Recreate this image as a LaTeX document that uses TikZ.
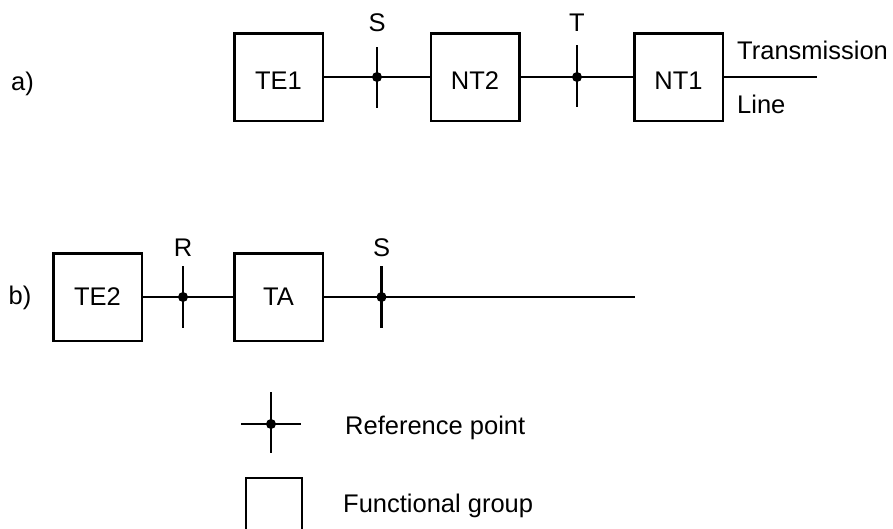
\documentclass[tikz,border=0pt]{standalone}
\usepackage{fontspec}
\setmainfont{Liberation Sans}
\begin{document}
\begin{tikzpicture}[x=1pt,y=-1pt,
  every node/.style={font=\fontsize{25.5}{30}\selectfont},
  fgbox/.style={draw,line width=2.5pt,minimum width=88.5pt,minimum height=87.5pt,inner sep=0pt},
  fgboxa/.style={fgbox,text height=24pt},
  wire/.style={line width=2.5pt},
  dotfill/.style={fill=black},
  lbl/.style={inner sep=0pt}
]
\useasboundingbox (0,0) rectangle (893,528);
\clip (0,0) rectangle (893,528);

% ---------- a) ----------
\node[lbl,anchor=base] (la) at (22.5,90) {a)};
\node[fgboxa] (TE1) at (278.5,77) {TE1};
\node[fgboxa] (NT2) at (475,77) {NT2};
\node[fgboxa] (NT1) at (678.5,77) {NT1};
\coordinate (Sa) at (377,77);
\coordinate (Ta) at (577,77);
\coordinate (Saup) at (377,47);
\coordinate (Sadn) at (377,108);
\coordinate (Taup) at (577,45);
\coordinate (Tadn) at (577,107);
\coordinate (TLend) at (817,77);
\draw[wire] (TE1.east) -- (NT2.west);
\draw[wire] (NT2.east) -- (NT1.west);
\draw[wire] (NT1.east) -- (TLend);
\draw[wire] (Saup) -- (Sadn);
\draw[wire] (Taup) -- (Tadn);
\fill[dotfill] (Sa) circle (5);
\fill[dotfill] (Ta) circle (5);
\node[lbl] (lSa) at (377,23) {S};
\node[lbl] (lTa) at (577,23) {T};
\node[lbl,anchor=west] (ltr) at (737,50) {Transmission};
\node[lbl,anchor=west] (lline) at (737,104) {Line};

% ---------- b) ----------
\node[lbl,anchor=base] (lb) at (20,304) {b)};
\node[fgbox] (TE2) at (97.5,297) {TE2};
\node[fgbox] (TA) at (278.5,297) {TA};
\coordinate (Rb) at (183,297);
\coordinate (Sb) at (381.5,297);
\coordinate (Rbup) at (183,266);
\coordinate (Rbdn) at (183,328);
\coordinate (Sbup) at (381.5,266);
\coordinate (Sbdn) at (381.5,328);
\coordinate (Bend) at (635,297);
\draw[wire] (TE2.east) -- (TA.west);
\draw[wire] (TA.east) -- (Bend);
\draw[wire] (Rbup) -- (Rbdn);
\draw[wire] (Sbup) -- (Sbdn);
\fill[dotfill] (Rb) circle (5);
\fill[dotfill] (Sb) circle (5);
\node[lbl] (lRb) at (183,248) {R};
\node[lbl] (lSb) at (381.5,248) {S};

% ---------- legend ----------
\coordinate (Lc) at (271,424);
\coordinate (Lcl) at (241,424);
\coordinate (Lcr) at (301,424);
\coordinate (Lcu) at (271,392);
\coordinate (Lcd) at (271,453);
\draw[wire] (Lcl) -- (Lcr);
\draw[wire] (Lcu) -- (Lcd);
\fill[dotfill] (Lc) circle (5);
\node[lbl,anchor=base west] (lref) at (345,434) {Reference point};
\draw[wire] (246,545) -- (246,478) -- (302,478) -- (302,545);
\node[lbl,anchor=base west] (lfg) at (343,512) {Functional group};
\end{tikzpicture}
\end{document}
